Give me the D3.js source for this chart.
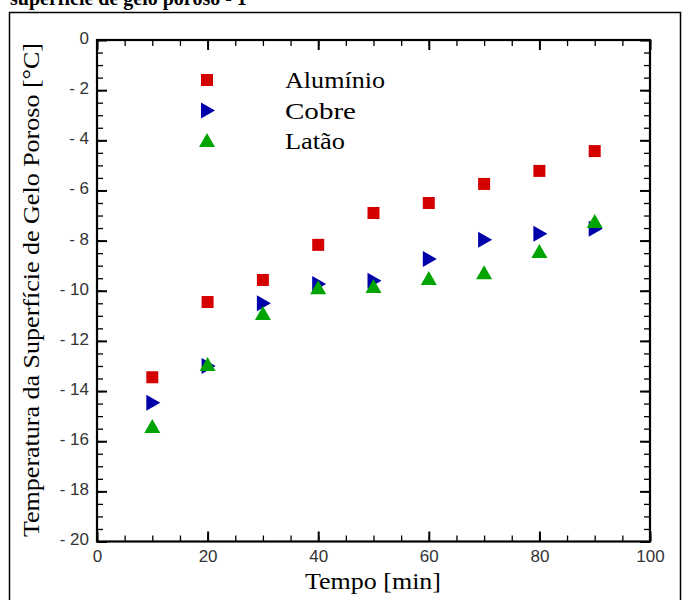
<!DOCTYPE html>
<html>
<head>
<meta charset="utf-8">
<script src="https://d3js.org/d3.v7.min.js"></script>
<style>
  body { margin: 0; background: #fff; }
  .tick text { font-family: Arimo, "Liberation Sans", Arial, sans-serif; }
</style>
</head>
<body>
<svg width="682" height="600"></svg>
<script>
// time points [min]
var tempo = [10, 20, 30, 40, 50, 60, 70, 80, 90];
// surface temperature [°C]
var aluminio = [-13.45, -10.45, -9.57, -8.17, -6.9, -6.5, -5.74, -5.22, -4.43];
var cobre    = [-14.47, -13.0, -10.5, -9.73, -9.6, -8.73, -7.97, -7.73, -7.53];
var latao    = [-15.43, -12.96, -10.93, -9.9, -9.85, -9.53, -9.3, -8.45, -7.26];
var seriesNames = ["Alumínio", "Cobre", "Latão"];
var xTicks = [0, 20, 40, 60, 80, 100];
var yTicks = [0, -2, -4, -6, -8, -10, -12, -14, -16, -18, -20];

var serif = "Liberation Serif, Times New Roman, serif";
var svg = d3.select("svg");

// title (cut off at the top in the original)
svg.append("text")
    .attr("x", 10).attr("y", 5)
    .attr("font-family", serif)
    .attr("font-weight", "bold")
    .attr("font-size", 20)
    .text("superfície de gelo poroso - 1");

// outer frame
svg.append("rect")
    .attr("x", 9.5).attr("y", 12.5)
    .attr("width", 671).attr("height", 600)
    .attr("fill", "none").attr("stroke", "#000").attr("stroke-width", 1.5);

var x = d3.scaleLinear().domain([0, 100]).range([97, 650]);
var y = d3.scaleLinear().domain([-20, 0]).range([541.5, 40]);

var g = svg.append("g");

// inward ticks on all 4 sides
function axisTicks(axis, pos, major, minor) {
  g.append("g").attr("transform", pos)
    .call(axis.tickValues(minor).tickSize(6).tickFormat(""))
    .call(function(s) { s.select(".domain").remove(); s.selectAll("line").attr("stroke-width", 1.3); });
  g.append("g").attr("transform", pos)
    .call(axis.tickValues(major).tickSize(10).tickFormat(""))
    .call(function(s) { s.select(".domain").remove(); s.selectAll("line").attr("stroke-width", 2); });
}
var xMinor = d3.range(0, 101, 5), yMinor = d3.range(-20, 0.1, 0.5);
axisTicks(d3.axisTop(x), "translate(0," + y(-20) + ")", xTicks, xMinor);
axisTicks(d3.axisBottom(x), "translate(0," + y(0) + ")", xTicks, xMinor);
axisTicks(d3.axisRight(y), "translate(" + x(0) + ",0)", yTicks, yMinor);
axisTicks(d3.axisLeft(y), "translate(" + x(100) + ",0)", yTicks, yMinor);

g.append("rect")
    .attr("x", x(0)).attr("y", y(0))
    .attr("width", x(100) - x(0)).attr("height", y(-20) - y(0))
    .attr("fill", "none").attr("stroke", "#000").attr("stroke-width", 2.2);

// tick labels (plain hyphen minus like the original)
var fmt = function(d) { return d < 0 ? "- " + (-d) : String(d); };
var xl = g.append("g").attr("transform", "translate(0," + (y(-20) + 4) + ")")
    .call(d3.axisBottom(x).tickValues(xTicks).tickSize(0).tickPadding(4).tickFormat(fmt));
xl.select(".domain").remove();
xl.selectAll("text").attr("font-size", 17).attr("fill", "#333");

var yl = g.append("g").attr("transform", "translate(" + (x(0) - 4) + ",0)")
    .call(d3.axisLeft(y).tickValues(yTicks).tickSize(0).tickPadding(4).tickFormat(fmt));
yl.select(".domain").remove();
yl.selectAll("text").attr("font-size", 17).attr("fill", "#333").attr("dy", "0.2em");

// axis titles
svg.append("text")
    .attr("x", 305).attr("y", 589)
    .attr("font-family", serif)
    .attr("font-size", 23)
    .attr("textLength", 136).attr("lengthAdjust", "spacingAndGlyphs")
    .text("Tempo [min]");
svg.append("text")
    .attr("transform", "translate(39,537) rotate(-90)")
    .attr("font-family", serif)
    .attr("font-size", 23)
    .attr("textLength", 494).attr("lengthAdjust", "spacingAndGlyphs")
    .text("Temperatura da Superfície de Gelo Poroso [°C]");

// marker shapes
var colors = ["#d40000", "#0000aa", "#00a400"];
function marker(sel, k) {
  if (k === 0) return sel.append("rect").attr("x", -6).attr("y", -6).attr("width", 12).attr("height", 12).attr("fill", colors[0]);
  if (k === 1) return sel.append("path").attr("d", "M-6,-8L8,0L-6,8Z").attr("fill", colors[1]);
  return sel.append("path").attr("d", "M0,-8L8,6L-8,6Z").attr("fill", colors[2]);
}

[aluminio, cobre, latao].forEach(function(vals, k) {
  g.append("g").selectAll("g")
    .data(vals)
    .enter().append("g")
      .attr("transform", function(d, i) { return "translate(" + x(tempo[i]) + "," + y(d) + ")"; })
      .each(function() { marker(d3.select(this), k); });
});

// legend
var legendLen = [100, 71, 60];
var lg = svg.append("g");
seriesNames.forEach(function(name, k) {
  var yy = 80 + k * 30.5;
  marker(lg.append("g").attr("transform", "translate(207," + yy + ")"), k);
  lg.append("text")
    .attr("x", 285).attr("y", yy + 8)
    .attr("font-family", serif)
    .attr("font-size", 23)
    .attr("textLength", legendLen[k]).attr("lengthAdjust", "spacingAndGlyphs")
    .text(name);
});
</script>
</body>
</html>
